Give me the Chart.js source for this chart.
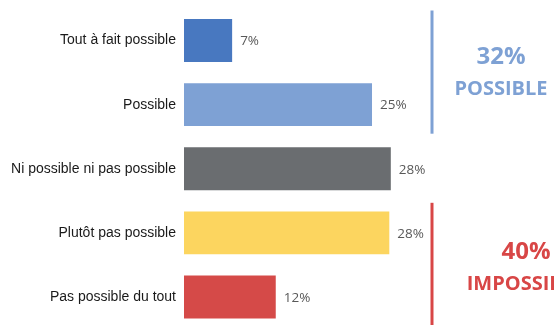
<!DOCTYPE html>
<html>
<head>
<meta charset="utf-8">
<script src="https://cdn.jsdelivr.net/npm/chart.js@4/dist/chart.umd.min.js"></script>
<style>
  html, body { margin: 0; padding: 0; background: #fff; overflow: hidden; }
  #wrap { width: 554px; height: 325px; overflow: hidden; }
</style>
</head>
<body>
<div id="wrap"><canvas id="barChart" width="554" height="330"></canvas></div>
<script>
const reponses = ["Tout à fait possible", "Possible", "Ni possible ni pas possible", "Plutôt pas possible", "Pas possible du tout"];
const pourcentages = [6.4, 25, 27.5, 27.3, 12.2];
const etiquettes = ["7%", "25%", "28%", "28%", "12%"];
const couleurs = ["#4878c0", "#7ea1d4", "#6a6d70", "#fcd55f", "#d54a48"];

const groupes = ["32%", "40%"];
const groupesMots = ["POSSIBLE", "IMPOSSIBLE"];
const groupesDebut = [0, 3];
const groupesFin = [1, 4];
const groupesCouleurs = ["#7ea1d4", "#d84646"];

// valeurs affichées à droite des barres
const valeursPlugin = {
    id: 'valeurs',
    afterDatasetsDraw(chart) {
        const ctx = chart.ctx;
        const meta = chart.getDatasetMeta(0);
        ctx.save();
        ctx.font = '13.5px "Open Sans"';
        ctx.fillStyle = '#595959';
        ctx.textAlign = 'left';
        ctx.textBaseline = 'middle';
        meta.data.forEach((bar, i) => {
            ctx.fillText(etiquettes[i], bar.x + 8, bar.y + 1);
        });
        ctx.restore();
    }
};

// traits verticaux + totaux par groupe
const groupesPlugin = {
    id: 'groupes',
    afterDraw(chart) {
        const ctx = chart.ctx;
        const y = chart.scales.y;
        const demi = (y.getPixelForValue(1) - y.getPixelForValue(0)) / 2;
        const xLigne = 432;
        const decalages = [69, 94];
        const hauteurs = [0, 2];
        ctx.save();
        groupes.forEach((g, i) => {
            const haut = y.getPixelForValue(groupesDebut[i]) - demi + 2;
            const bas = y.getPixelForValue(groupesFin[i]) + demi - 3;
            ctx.strokeStyle = groupesCouleurs[i];
            ctx.lineWidth = 3;
            ctx.beginPath();
            ctx.moveTo(xLigne, haut);
            ctx.lineTo(xLigne, bas);
            ctx.stroke();

            const milieu = (y.getPixelForValue(groupesDebut[i]) + y.getPixelForValue(groupesFin[i])) / 2 + hauteurs[i];
            const cx = xLigne + decalages[i];
            ctx.fillStyle = groupesCouleurs[i];
            ctx.textAlign = 'center';
            ctx.textBaseline = 'middle';
            ctx.font = 'bold 24px "Open Sans"';
            ctx.fillText(g, cx, milieu - 15);
            ctx.font = 'bold 20px "Open Sans"';
            ctx.fillText(groupesMots[i], cx, milieu + 17);
        });
        ctx.restore();
    }
};

const ctx = document.getElementById('barChart').getContext('2d');

const barChart = new Chart(ctx, {
    type: 'bar',
    data: {
        labels: reponses,
        datasets: [{
            data: pourcentages,
            backgroundColor: couleurs,
            borderWidth: 0,
            barPercentage: 0.67,
            categoryPercentage: 1
        }]
    },
    options: {
        indexAxis: 'y',
        responsive: false,
        animation: false,
        devicePixelRatio: 1,
        layout: { padding: { top: 8.5, bottom: 1, left: 0, right: 0 } },
        plugins: {
            legend: { display: false },
            tooltip: { enabled: false }
        },
        scales: {
            x: {
                display: false,
                min: 0,
                max: 49.2
            },
            y: {
                grid: { display: false, drawTicks: false },
                border: { display: false },
                ticks: {
                    color: '#1a1a1a',
                    padding: 8,
                    font: { family: '"Liberation Sans", Arial', size: 14 }
                },
                afterFit(scale) {
                    scale.width = 184;
                    scale.paddingTop = 0;
                    scale.paddingBottom = 0;
                }
            }
        }
    },
    plugins: [valeursPlugin, groupesPlugin]
});
</script>
</body>
</html>
